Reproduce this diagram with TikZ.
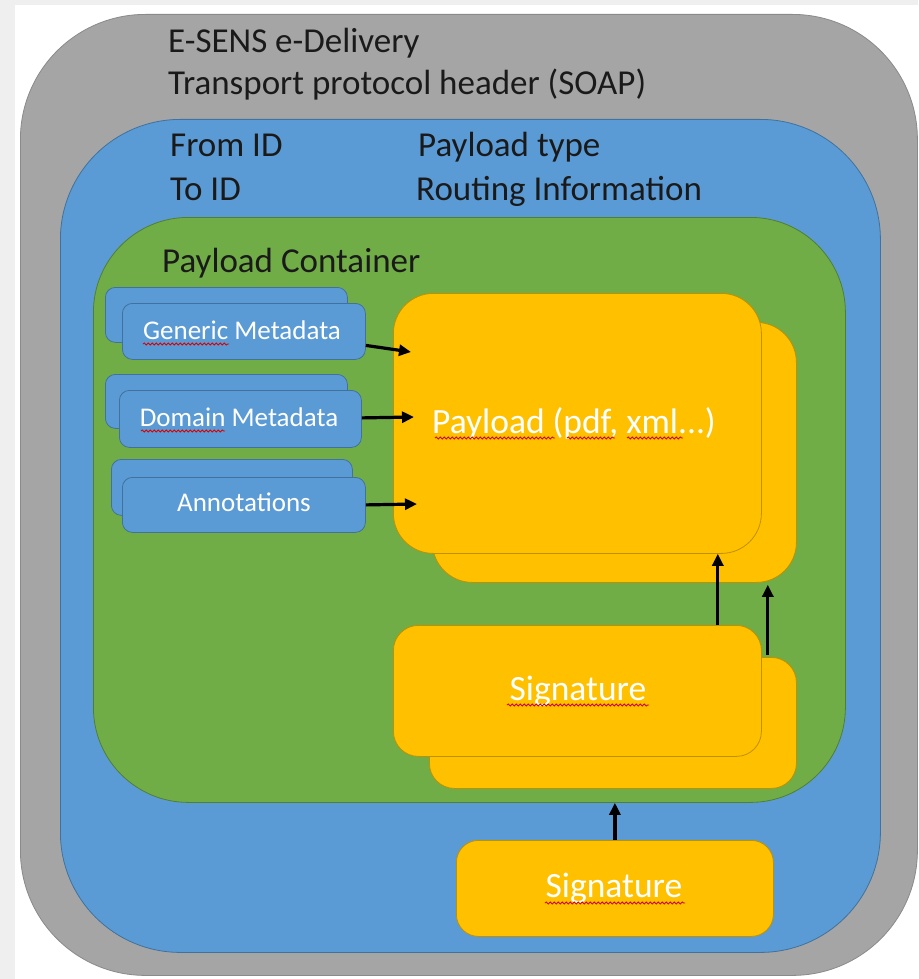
\documentclass[tikz,border=0pt]{standalone}
\usepackage{fontspec}
\setmainfont{Carlito}
\usetikzlibrary{arrows.meta,decorations.pathmorphing}
\definecolor{cgrey}{HTML}{A5A5A5}
\definecolor{cgreyb}{HTML}{8A8A8A}
\definecolor{cblue}{HTML}{5B9BD5}
\definecolor{cblueb}{HTML}{41719C}
\definecolor{cgreen}{HTML}{70AD47}
\definecolor{cgreenb}{HTML}{507E32}
\definecolor{cgold}{HTML}{FFC000}
\definecolor{cgoldb}{HTML}{BF9000}
\definecolor{ctext}{HTML}{1A1A1A}
\definecolor{cbg}{HTML}{EFEFEF}
\tikzset{
  panel/.style={draw, line width=0.8pt, inner sep=0pt, anchor=north west},
  greypanel/.style={panel, fill=cgrey, draw=cgreyb, rounded corners=125pt},
  bluepanel/.style={panel, fill=cblue, draw=cblueb, rounded corners=120pt},
  greenpanel/.style={panel, fill=cgreen, draw=cgreenb, rounded corners=95pt},
  metabox/.style={panel, fill=cblue, draw=cblueb, rounded corners=10pt},
  goldbig/.style={panel, fill=cgold, draw=cgoldb, rounded corners=40pt},
  goldsig/.style={panel, fill=cgold, draw=cgoldb, rounded corners=25pt},
  title/.style={anchor=base west, inner sep=0pt, text=ctext, font=\fontsize{35}{40}\selectfont},
  metatext/.style={anchor=base, inner sep=0pt, text=white, font=\fontsize{27}{30}\selectfont},
  goldtext/.style={anchor=base, inner sep=0pt, text=white, font=\fontsize{35.5}{40}\selectfont},
  arr/.style={line width=3.2pt, -{Triangle[length=12pt,width=11pt]}},
  squig/.style={draw=red!85!black, line width=0.8pt, decorate, decoration={snake, amplitude=1.1pt, segment length=4pt}}
}
\begin{document}
\begin{tikzpicture}[x=1pt,y=-1pt]
\useasboundingbox (0,0) rectangle (918,979);
\fill[cbg] (0,0) rectangle (918,979);
\fill[white] (15,5) rectangle (918,979);

% nested panels
\node[greypanel, minimum width=897pt, minimum height=961pt] (outer) at (20,14) {};
\node[bluepanel, minimum width=820pt, minimum height=833pt] (soap) at (60,119) {};
\node[greenpanel, minimum width=752pt, minimum height=585pt] (pc) at (93,217) {};

% titles
\node[title] (t1) at (168,53) {E-SENS e-Delivery};
\node[title] (t2) at (168,95) {Transport protocol header (SOAP)};
\node[title] (t3) at (170,157) {From ID};
\node[title] (t4) at (170,200) {To ID};
\node[title] (t5) at (418,157) {Payload type};
\node[title] (t6) at (416,200) {Routing Information};
\node[title] (t7) at (162,272) {Payload Container};

% metadata stacks
\node[metabox, minimum width=242pt, minimum height=55pt] (gmb) at (105,287) {};
\node[metabox, minimum width=243pt, minimum height=56pt] (gmf) at (122,303) {};
\node[metatext] (gmt) at (242,339) {Generic Metadata};
\node[metabox, minimum width=242pt, minimum height=54pt] (dmb) at (105,374) {};
\node[metabox, minimum width=242pt, minimum height=57pt] (dmf) at (119,390) {};
\node[metatext] (dmt) at (239,426) {Domain Metadata};
\node[metabox, minimum width=241pt, minimum height=56pt] (anb) at (111,459) {};
\node[metabox, minimum width=243pt, minimum height=55pt] (anf) at (122,477) {};
\node[metatext] (ant) at (244,511) {Annotations};

% payload
\node[goldbig, minimum width=364pt, minimum height=260pt] (pb) at (432,322) {};
\node[goldbig, minimum width=368pt, minimum height=260pt] (pf) at (393,293) {};
\node[goldtext] (pt) at (574,433) {Payload (pdf, xml...)};

% signatures inside container
\node[goldsig, minimum width=367pt, minimum height=131pt] (sb) at (429,657) {};
\node[goldsig, minimum width=368pt, minimum height=131pt] (sf) at (393,625) {};
\node[goldtext] (st) at (578,700) {Signature};

% outer signature
\node[goldsig, rounded corners=22pt, minimum width=317pt, minimum height=96pt] (os) at (456,840) {};
\node[goldtext] (ost) at (614,897) {Signature};

% arrow end points
\coordinate (e1) at (411,352);
\coordinate (e2) at (414,417);
\coordinate (e3) at (417,504);

\draw[arr] ([yshift=-14pt]gmf.east) -- (e1);
\draw[arr] ([yshift=1pt]dmf.east) -- (e2);
\draw[arr] ([yshift=0pt]anf.east) -- (e3);
\draw[arr] ([xshift=-44pt]sf.north east) -- ([xshift=-44pt]pf.south east);
\draw[arr] ([xshift=-29pt,yshift=2pt]sb.north east) -- ([xshift=-29pt,yshift=-2pt]pb.south east);
\draw[arr] (os.north) -- (os.north |- pc.south);

% spell-check squiggles
\draw[squig] (143,344) -- (229,344);
\draw[squig] (141,431) -- (225,431);
\draw[squig] (435,438) -- (555,438);
\draw[squig] (567,438) -- (615,438);
\draw[squig] (627,438) -- (683,438);
\draw[squig] (507,705) -- (649,705);
\draw[squig] (545,903) -- (685,903);
\end{tikzpicture}
\end{document}
